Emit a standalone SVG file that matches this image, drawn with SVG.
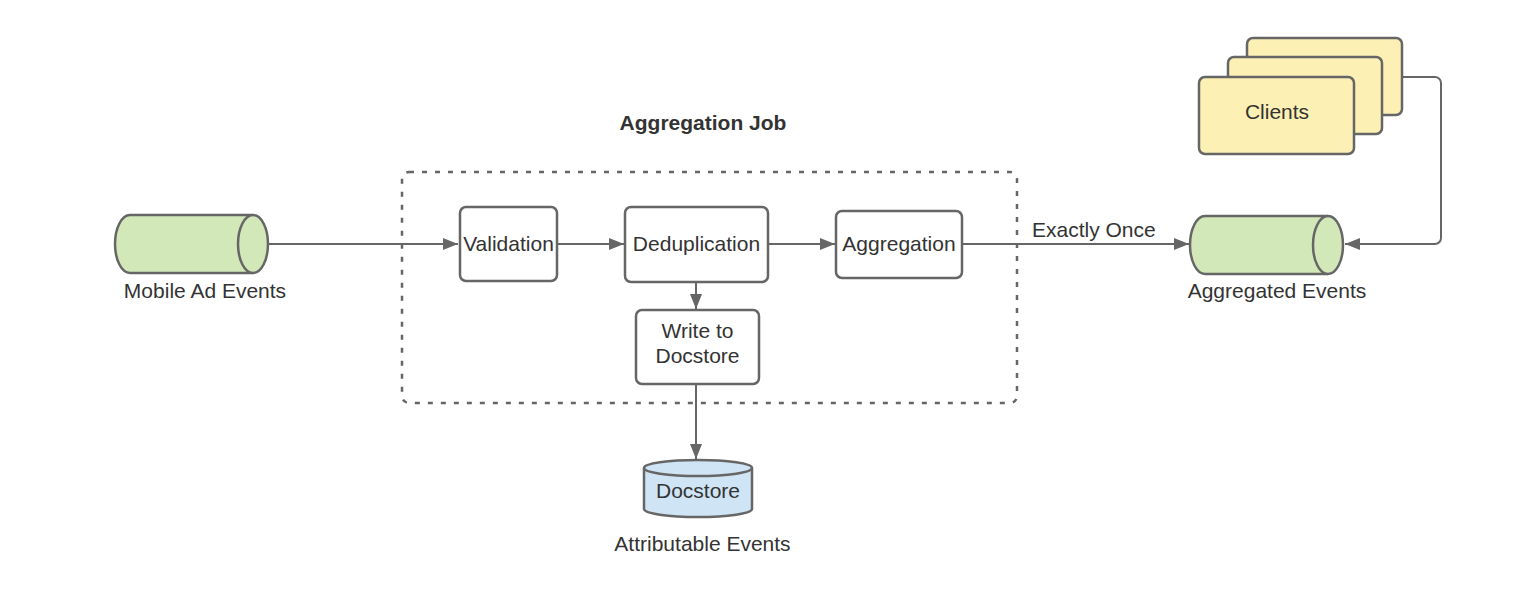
<svg xmlns="http://www.w3.org/2000/svg" width="1536" height="614" viewBox="0 0 1536 614">
<style>
.t{font-family:"Liberation Sans",Arial,sans-serif;font-size:21px;fill:#333;}
.b{font-weight:bold;}
.m{text-anchor:middle;}
.box{fill:#fff;stroke:#666;stroke-width:2.5;}
.green{fill:#d3e8b8;stroke:#666;stroke-width:2.5;}
.yellow{fill:#fdf0b4;stroke:#666;stroke-width:2.5;}
.blue{fill:#cfe4f5;stroke:#666;stroke-width:2.5;}
.line{fill:none;stroke:#666;stroke-width:2;}
.dash{fill:none;stroke:#666;stroke-width:2.5;stroke-dasharray:5 8;}
</style>
<defs>
<marker id="arr" markerUnits="userSpaceOnUse" markerWidth="16" markerHeight="12" refX="15" refY="6" orient="auto">
<path d="M0,0 L15,6 L0,12 Z" fill="#666"/>
</marker>
</defs>
<rect width="1536" height="614" fill="#fff"/>

<g id="group-aggregation-job">
<rect class="dash" x="402" y="172" width="615" height="231" rx="7"/>
<text class="t b m" x="703" y="130">Aggregation Job</text>
</g>

<g id="connectors">
<path class="line" d="M268,244 H458" marker-end="url(#arr)"/>
<path class="line" d="M557,244 H624" marker-end="url(#arr)"/>
<path class="line" d="M768,244 H835" marker-end="url(#arr)"/>
<path class="line" d="M696,282 V309" marker-end="url(#arr)"/>
<path class="line" d="M696,384 V459" marker-end="url(#arr)"/>
<path class="line" d="M962,244 H1189" marker-end="url(#arr)"/>
<path class="line" d="M1402,77 H1435 a6,6 0 0 1 6,6 V238 a6,6 0 0 1 -6,6 H1345" marker-end="url(#arr)"/>
<text class="t" x="1032" y="237">Exactly Once</text>
</g>

<g id="node-mobile-ad-events">
<path class="green" d="M130,215 H253 A15,29 0 0 1 253,273 H130 A15,29 0 0 1 130,215 Z"/>
<path class="green" d="M253,215 A15,29 0 0 0 253,273"/>
<text class="t m" x="205" y="298">Mobile Ad Events</text>
</g>

<g id="node-validation">
<rect class="box" x="460" y="207" width="97" height="74" rx="6"/>
<text class="t m" x="508.5" y="251">Validation</text>
</g>

<g id="node-deduplication">
<rect class="box" x="625" y="207" width="143" height="75" rx="6"/>
<text class="t m" x="696.5" y="251">Deduplication</text>
</g>

<g id="node-aggregation">
<rect class="box" x="836" y="211" width="126" height="67" rx="6"/>
<text class="t m" x="899" y="251">Aggregation</text>
</g>

<g id="node-write-to-docstore">
<rect class="box" x="636" y="310" width="123" height="74" rx="6"/>
<text class="t m" x="697.5" y="338">Write to</text>
<text class="t m" x="697.5" y="363">Docstore</text>
</g>

<g id="node-docstore">
<path class="blue" d="M644,468 A54,8 0 0 1 752,468 V509 A54,8 0 0 1 644,509 Z"/>
<path class="blue" d="M644,468 A54,8 0 0 0 752,468"/>
<text class="t m" x="698" y="498">Docstore</text>
<text class="t m" x="702.5" y="551">Attributable Events</text>
</g>

<g id="node-aggregated-events">
<path class="green" d="M1205,216 H1328 A15,29 0 0 1 1328,274 H1205 A15,29 0 0 1 1205,216 Z"/>
<path class="green" d="M1328,216 A15,29 0 0 0 1328,274"/>
<text class="t m" x="1277" y="298">Aggregated Events</text>
</g>

<g id="node-clients">
<rect class="yellow" x="1247" y="38" width="155" height="77" rx="6"/>
<rect class="yellow" x="1228" y="57" width="154" height="77" rx="6"/>
<rect class="yellow" x="1199" y="77" width="155" height="77" rx="6"/>
<text class="t m" x="1277" y="119">Clients</text>
</g>
</svg>
